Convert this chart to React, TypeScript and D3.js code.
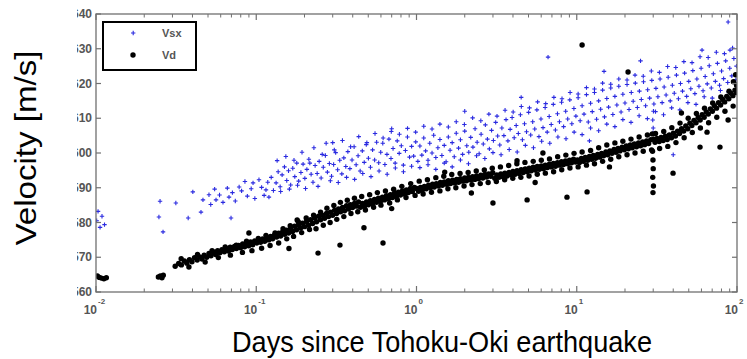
import React from "react";
import * as d3 from "d3";

// ---- data (days since earthquake, velocity m/s) ----
const yTickValues = [1560, 1570, 1580, 1590, 1600, 1610, 1620, 1630, 1640];
const xDecades = [0.01, 0.1, 1, 10, 100];
const xDecadeExponents = ["-2", "-1", "0", "1", "2"];
const legendLabels = ["Vsx", "Vd"];

const vsxPoints: [number, number][] = [
  [0.0101,1580.5],[0.0103,1583.2],[0.0106,1578.6],[0.0109,1581.8],[0.0113,1579.4],
  [0.0247,1581.6],[0.0262,1577.3],[0.0251,1586.1],
  [0.0315,1585.6],[0.0376,1581.3],[0.0402,1588.8],[0.0452,1583.0],[0.0465,1586.5],[0.0507,1588.0],[0.0561,1586.5],[0.0676,1587.3],[0.0696,1581.3],[0.0782,1590.2],[0.0955,1591.4],[0.115,1589.4],[0.12,1587.3],
  [0.052,1585.2],[0.055,1589.6],[0.059,1587.9],[0.062,1585.8],[0.066,1589.9],[0.071,1588.6],[0.074,1586.2],[0.081,1589.1],[0.085,1591.8],[0.088,1587.6],[0.093,1589.7],[0.098,1586.9],[0.104,1592.3],[0.108,1590.1],[0.112,1587.8],[0.118,1591.6],[0.124,1593.0],[0.128,1589.2],
  [0.133,1591.4],[0.137,1594.6],[0.141,1590.3],[0.145,1593.7],[0.150,1596.0],[0.155,1592.1],[0.159,1594.9],[0.164,1590.8],[0.169,1595.6],[0.174,1593.2],[0.179,1597.1],[0.184,1591.9],[0.190,1594.4],[0.196,1596.8],[0.201,1592.7],[0.207,1595.3],[0.213,1598.2],[0.220,1593.9],[0.226,1591.6],[0.233,1596.4],[0.240,1594.1],[0.247,1597.6],[0.254,1592.8],[0.262,1595.9],[0.270,1599.3],[0.278,1594.5],[0.286,1597.0],[0.295,1593.3],[0.304,1596.7],[0.313,1600.1],[0.322,1595.2],[0.332,1597.9],[0.342,1594.0],[0.352,1598.6],[0.362,1596.1],[0.373,1600.4],[0.384,1595.5],[0.396,1598.0],[0.408,1601.8],[0.420,1596.6],[0.432,1599.2],[0.445,1594.8],[0.459,1600.6],[0.472,1597.3],[0.486,1602.4],[0.501,1598.5],[0.516,1595.9],[0.532,1600.9],[0.548,1598.0],[0.564,1603.1],[0.581,1597.2],[0.598,1600.2],[0.616,1602.8],[0.635,1596.7],[0.654,1599.6],[0.673,1604.0],[0.693,1598.4],[0.714,1601.3],[0.736,1597.1],[0.758,1603.5],[0.780,1599.9],[0.804,1602.1],[0.828,1596.5],[0.853,1600.7],[0.878,1604.6],[0.905,1598.8],[0.932,1601.9],[0.960,1599.1],[0.989,1603.2],
  [1.02,1597.6],[1.05,1602.0],[1.08,1599.4],[1.11,1604.3],[1.14,1600.6],[1.18,1597.9],[1.21,1602.8],[1.25,1600.0],[1.28,1605.1],[1.32,1598.7],[1.36,1601.5],[1.40,1603.9],[1.44,1599.3],[1.49,1602.2],[1.53,1597.5],[1.58,1604.6],[1.62,1600.8],[1.67,1603.0],[1.72,1598.9],[1.77,1605.7],[1.83,1601.4],[1.88,1603.8],[1.94,1599.6],[2.00,1606.3],[2.06,1602.1],[2.12,1600.2],[2.18,1604.5],[2.25,1601.7],[2.32,1607.0],[2.39,1603.1],[2.46,1599.8],[2.53,1605.4],[2.61,1602.6],[2.69,1608.1],[2.77,1604.0],[2.85,1601.2],[2.94,1606.5],[3.02,1603.6],[3.12,1608.8],[3.21,1604.9],[3.31,1602.3],[3.41,1607.2],[3.51,1605.0],[3.62,1609.6],[3.72,1603.5],[3.84,1606.8],[3.95,1610.2],[4.07,1604.4],[4.19,1607.9],[4.32,1605.6],[4.45,1611.0],[4.58,1603.8],[4.72,1608.4],[4.86,1606.1],[5.01,1611.7],[5.16,1605.2],[5.31,1609.0],[5.47,1606.9],[5.64,1612.4],[5.81,1604.7],[5.98,1609.8],[6.16,1607.3],[6.35,1613.1],[6.54,1606.0],[6.73,1610.5],[6.93,1608.2],[7.14,1614.0],[7.36,1606.6],[7.58,1611.3],[7.80,1609.0],[8.04,1614.6],[8.28,1607.6],[8.53,1612.0],[8.78,1609.8],[9.05,1615.3],[9.32,1608.4],[9.60,1612.8],
  [9.88,1610.6],[10.2,1615.9],[10.5,1609.3],[10.8,1613.6],[11.1,1611.2],[11.5,1616.8],[11.8,1608.9],[12.2,1614.3],[12.5,1611.9],[12.9,1617.4],[13.3,1609.7],[13.7,1615.0],[14.1,1612.6],[14.5,1618.1],[14.9,1610.4],[15.4,1615.7],[15.8,1613.2],[16.3,1618.7],[16.8,1611.1],[17.3,1616.3],[17.8,1613.8],[18.3,1619.2],[18.9,1611.8],[19.4,1616.9],[20.0,1614.4],[20.6,1619.7],[21.2,1612.5],[21.9,1617.4],[22.5,1614.9],[23.2,1620.1],[23.9,1613.1],[24.6,1617.8],[25.3,1615.4],[26.1,1620.5],[26.9,1613.6],[27.7,1618.2],[28.5,1615.8],[29.4,1620.9],[29.8,1609.5],[30.0,1607.2],[30.1,1612.0],[29.9,1605.8],[30.3,1614.1],[31.2,1618.6],[32.1,1616.2],[33.1,1621.3],[34.1,1614.5],[35.1,1619.0],[36.1,1616.7],[37.2,1621.8],[38.3,1615.0],[39.5,1619.5],[40.6,1617.2],[41.9,1622.4],[43.1,1615.6],[44.4,1620.0],[45.7,1617.8],[47.1,1623.0],[48.5,1616.3],[50.0,1620.6],[51.5,1618.5],[53.0,1623.7],[54.6,1617.1],[56.2,1621.3],[57.9,1619.2],[59.7,1624.4],[61.4,1617.9],[63.3,1622.0],[65.2,1619.9],[67.1,1625.1],[69.1,1618.7],[71.2,1622.8],[73.3,1620.6],[75.5,1625.8],[77.8,1619.5],[80.1,1623.6],[82.5,1621.4],[85.0,1626.5],[87.5,1620.3],[90.1,1624.4],[92.8,1622.2],[95.6,1627.2],[98.4,1621.1],[99.3,1625.0],
  [6.62,1627.6],[60.5,1629.6],[90.4,1629.6],[88,1637.7],[25,1626.5],[4.5,1616],[2.0,1612],[0.7,1607],[0.3,1603],[14.8,1623.5],[40,1599.5],[12,1603.5],
  [0.135,1597.8],[0.142,1588.9],[0.153,1599.0],[0.161,1589.6],[0.172,1597.9],[0.181,1590.7],[0.193,1600.2],[0.203,1589.8],[0.216,1597.1],[0.229,1601.5],[0.243,1590.4],[0.258,1599.6],[0.273,1602.8],[0.29,1592.0],[0.307,1600.9],[0.325,1591.5],[0.345,1603.6],[0.366,1593.0],[0.388,1601.8],[0.411,1592.4],[0.436,1604.7],[0.462,1594.1],[0.49,1603.0],[0.52,1593.2],[0.551,1605.6],[0.584,1594.8],[0.619,1604.3],[0.656,1593.9],[0.696,1606.2],[0.738,1595.7],[0.782,1605.4],[0.829,1594.6],[0.879,1607.1],[0.932,1596.2],[0.988,1606.0],
  [1.05,1595.8],[1.11,1607.7],[1.18,1596.6],[1.25,1606.9],[1.32,1595.3],[1.4,1608.3],[1.49,1597.1],[1.58,1607.5],[1.67,1596.0],[1.77,1609.0],[1.88,1598.0],[1.99,1608.2],[2.11,1596.9],[2.24,1610.1],[2.37,1599.2],[2.52,1609.3],[2.67,1598.4],[2.83,1611.2],[3.0,1600.1],[3.18,1610.6],[3.37,1599.5],[3.57,1612.3],[3.79,1601.0],[4.01,1611.8],[4.25,1600.3],[4.51,1613.4],[4.78,1602.2],[5.07,1613.0],[5.37,1601.5],[5.7,1614.7],[6.04,1603.4],[6.4,1614.2],[6.79,1602.8],[7.2,1616.0],[7.63,1604.6],[8.09,1615.6],[8.57,1604.1],[9.09,1617.4],[9.63,1606.0],
  [10.2,1617.0],[10.8,1605.3],[11.5,1618.8],[12.2,1607.2],[12.9,1618.4],[13.7,1606.4],[14.5,1620.1],[15.4,1608.3],[16.3,1619.8],[17.3,1607.6],[18.3,1621.3],[19.4,1609.6],[20.6,1621.0],[21.8,1608.8],[23.1,1622.4],[24.5,1610.7],[26.0,1622.1],[27.6,1609.9],[29.2,1623.6],[31.0,1611.9],[32.8,1623.2],[34.8,1611.0],[36.9,1624.9],[39.1,1613.0],[41.5,1624.6],[44.0,1612.4],[46.6,1626.3],[49.4,1614.5],[52.4,1626.0],[55.5,1614.0],[58.8,1627.7],[62.4,1616.2],[66.1,1627.5],[70.1,1615.8],[74.3,1629.0],[78.8,1618.0],[83.5,1628.6],[88.5,1617.6],[93.8,1630.2],[99.4,1619.3]
];

const vdPoints: [number, number][] = [
  [0.0102,1564.6],[0.0105,1564.2],[0.0108,1564.0],[0.0112,1563.8],[0.0116,1564.1],
  [0.0245,1564.3],[0.0252,1564.6],[0.0258,1564.1],[0.0263,1564.8],
  [0.0312,1567.4],[0.0328,1568.2],[0.0341,1567.8],[0.0356,1568.9],[0.0369,1568.3],[0.0383,1569.3],[0.0397,1568.7],[0.0412,1569.9],[0.0428,1569.2],[0.0444,1570.1],[0.0459,1569.5],[0.0473,1570.6],[0.0491,1570.0],[0.0507,1571.1],[0.0522,1570.4],[0.0541,1571.5],[0.0558,1570.8],[0.0574,1571.9],[0.0593,1571.3],[0.0611,1572.2],[0.0632,1571.6],[0.0649,1572.5],[0.0671,1571.8],[0.0688,1572.9],[0.0709,1572.2],[0.0731,1573.1],[0.0752,1572.5],[0.0776,1573.4],[0.0798,1572.7],[0.0823,1573.8],[0.0846,1573.0],[0.0871,1574.0],[0.0897,1573.3],[0.0922,1574.4],[0.0951,1573.6],[0.0978,1574.7],
  [0.1006,1574.1],[0.1035,1575.0],[0.1064,1574.3],[0.1096,1575.3],[0.1128,1574.6],[0.1161,1575.7],[0.1195,1575.0],[0.1229,1576.0],[0.1265,1575.3],[0.1302,1576.4],[0.1340,1575.8],[0.1379,1576.9],[0.1419,1576.1],[0.1461,1577.3],[0.1503,1576.6],[0.1547,1577.8],[0.1592,1577.0],[0.1638,1578.3],[0.1686,1577.4],[0.1735,1578.9],[0.1786,1577.9],[0.1838,1579.3],[0.1891,1578.4],[0.1946,1579.8],[0.2003,1578.8],[0.2061,1580.3],[0.2121,1579.2],[0.2183,1580.8],[0.2247,1579.7],[0.2312,1581.3],[0.2379,1580.2],[0.2449,1581.8],[0.2520,1580.8],[0.2593,1582.1],[0.2669,1581.2],[0.2746,1582.6],[0.2826,1581.7],[0.2909,1583.0],[0.2993,1582.1],[0.3080,1583.5],[0.3170,1582.6],[0.3262,1583.9],[0.3357,1583.1],[0.3455,1584.3],[0.3556,1583.4],[0.3659,1584.8],[0.3765,1583.9],[0.3875,1585.1],[0.3988,1584.3],[0.4104,1585.5],[0.4223,1584.7],[0.4346,1585.9],
  [0.4473,1584.4],[0.4603,1585.5],[0.4737,1584.7],[0.4875,1585.9],[0.5016,1585.1],[0.5162,1586.3],[0.5312,1585.4],[0.5467,1586.6],[0.5626,1585.8],[0.5790,1587.0],[0.5958,1586.1],[0.6132,1587.3],[0.6310,1586.5],[0.6494,1587.7],[0.6683,1586.8],[0.6877,1588.0],[0.7077,1587.2],[0.7283,1588.4],[0.7495,1587.5],[0.7713,1588.7],[0.7937,1587.9],[0.8168,1589.1],[0.8406,1588.2],[0.8650,1589.4],[0.8902,1588.6],[0.9161,1589.8],[0.9428,1588.9],[0.9702,1590.1],
  [1.00,1589.8],[1.03,1589.0],[1.06,1590.1],[1.09,1589.4],[1.12,1590.4],[1.15,1589.7],[1.19,1590.7],[1.22,1590.0],[1.26,1591.0],[1.29,1590.2],[1.33,1591.2],[1.37,1590.5],[1.41,1591.5],[1.45,1590.7],[1.49,1591.7],[1.54,1591.0],[1.58,1592.0],[1.63,1591.2],[1.68,1592.2],[1.73,1591.4],[1.78,1592.4],[1.83,1591.6],[1.88,1592.6],[1.94,1591.9],[2.00,1592.8],[2.05,1592.0],[2.11,1593.0],[2.18,1592.2],[2.24,1593.2],[2.31,1592.4],[2.37,1593.4],[2.44,1592.6],[2.52,1593.6],[2.59,1592.8],[2.67,1593.8],[2.74,1593.1],[2.82,1594.0],[2.91,1593.3],[2.99,1594.3],
  [3.08,1592.7],[3.17,1593.7],[3.27,1593.0],[3.36,1594.0],[3.46,1593.2],[3.56,1594.2],[3.67,1593.4],[3.78,1594.4],[3.89,1593.7],[4.00,1594.7],[4.12,1593.9],[4.24,1594.9],[4.37,1594.1],[4.50,1595.2],[4.63,1594.4],[4.77,1595.4],[4.91,1594.6],[5.05,1595.6],[5.20,1594.9],[5.35,1595.9],[5.51,1595.1],[5.67,1596.1],[5.84,1595.3],[6.01,1596.3],[6.19,1595.5],[6.37,1596.5],[6.56,1595.8],[6.75,1596.8],[6.95,1596.0],[7.15,1597.0],[7.36,1596.2],[7.58,1597.2],[7.80,1596.5],[8.03,1597.5],[8.27,1596.7],[8.51,1597.7],[8.76,1596.9],[9.02,1597.9],[9.28,1597.2],[9.55,1598.2],[9.83,1597.4],
  [10.1,1598.0],[10.4,1597.3],[10.7,1598.4],[11.0,1597.6],[11.3,1598.7],[11.7,1597.9],[12.0,1599.0],[12.4,1598.2],[12.7,1599.3],[13.1,1598.5],[13.5,1599.6],[13.9,1598.8],[14.3,1599.9],[14.7,1599.2],[15.2,1600.3],[15.6,1599.5],[16.1,1600.6],[16.6,1599.9],[17.1,1601.0],[17.6,1600.2],[18.1,1601.3],[18.6,1600.6],[19.2,1601.7],[19.8,1600.9],[20.4,1602.0],[21.0,1601.2],[21.6,1602.3],[22.2,1601.5],[22.9,1602.6],[23.6,1601.8],[24.3,1602.9],[25.0,1602.1],[25.8,1603.2],[26.5,1602.4],[27.3,1603.5],[28.1,1602.7],[29.0,1603.8],
  [29.7,1600.5],[29.9,1598.0],[30.0,1595.5],[29.8,1593.0],[30.1,1590.5],[29.9,1588.6],[29.6,1605.5],
  [30.2,1604.0],[30.8,1603.1],[31.7,1604.2],[32.7,1603.3],[33.6,1604.5],[34.6,1603.6],[35.7,1604.8],[36.7,1603.9],[37.8,1605.2],[39.0,1604.4],[40.1,1605.7],[41.3,1604.9],[42.6,1606.3],[43.8,1605.6],[45.1,1607.0],[46.5,1606.3],[47.9,1607.8],[49.3,1607.0],[50.8,1608.6],[52.3,1607.9],[53.9,1609.4],[55.5,1608.7],[57.2,1610.2],[58.9,1609.5],[60.6,1611.0],[62.4,1610.3],[64.3,1611.8],[66.2,1611.2],[68.2,1612.7],[70.2,1612.0],[72.3,1613.6],[74.5,1612.9],[76.7,1614.5],[79.0,1613.8],[81.4,1615.4],[83.8,1614.7],[86.3,1616.3],[88.9,1615.6],[91.6,1617.2],[94.3,1616.5],[97.1,1618.1],[99.0,1617.4],[99.5,1619.5],
  [20.9,1623.3],[10.8,1631.1],[11.6,1588.8],[8.69,1587.3],[4.24,1597.8],[6.15,1600.0],[58.8,1601.7],[78.3,1601.7],[39.9,1594.2],[0.333,1573.5],[0.618,1574.1],[0.243,1571.2],[0.18,1580.7],[4.9,1586.5],[3.0,1585.6],[0.09,1577],[0.16,1572.5],[0.47,1578.5],[0.7,1584],[1.5,1594.5],[2.2,1588.5],[5.5,1591.5],[16,1596],[45,1611.5],[65,1606],[88,1609.5],[95,1620.5],[98,1622.5],
  [0.034,1569.6],[0.038,1567.2],[0.043,1570.8],[0.048,1568.6],[0.053,1571.9],[0.058,1569.9],[0.064,1573.0],[0.069,1570.6],[0.075,1573.5],[0.082,1571.4],[0.087,1574.6],[0.094,1571.9],[0.103,1575.4],[0.108,1572.6],[0.115,1576.3],[0.122,1573.4],[0.131,1577.0],[0.138,1574.1],[0.147,1578.2],[0.155,1575.3],[0.163,1579.1],[0.171,1576.0],[0.183,1580.2],[0.192,1577.1],[0.205,1581.3],[0.215,1578.0],[0.228,1582.1],[0.236,1578.2],[0.252,1583.0],[0.262,1579.2],[0.276,1584.1],[0.289,1580.0],[0.305,1584.9],[0.318,1580.9],[0.335,1585.8],[0.352,1581.7],[0.37,1586.4],[0.39,1582.6],[0.41,1587.0],[0.43,1583.1],[0.455,1587.5],[0.48,1583.6],[0.51,1588.0],[0.54,1584.4],[0.57,1588.6],[0.6,1585.0],[0.64,1589.1],[0.68,1585.6],[0.72,1589.6],[0.76,1586.5],[0.81,1590.4],[0.86,1587.2],[0.92,1591.2],[0.98,1587.8],
  [1.04,1591.9],[1.1,1588.2],[1.17,1592.3],[1.24,1588.7],[1.32,1592.9],[1.4,1589.1],[1.48,1593.3],[1.57,1589.7],[1.66,1593.8],[1.76,1590.0],[1.87,1594.1],[1.98,1590.5],[2.1,1594.4],[2.22,1590.9],[2.36,1594.8],[2.5,1591.2],[2.65,1595.1],[2.8,1591.5],[2.97,1595.6],[3.15,1591.8],[3.34,1596.0],[3.55,1592.3],[3.76,1596.4],[3.99,1592.7],[4.23,1596.9],[4.48,1593.0],[4.75,1597.3],[5.04,1593.4],[5.35,1597.6],[5.67,1593.9],[6.01,1597.9],[6.37,1594.2],[6.76,1598.3],[7.17,1594.6],[7.6,1598.9],[8.06,1595.2],[8.55,1599.4],[9.07,1595.7],[9.62,1599.9],
  [10.2,1596.0],[10.8,1600.3],[11.5,1596.5],[12.2,1600.7],[12.9,1596.9],[13.7,1601.5],[14.5,1597.6],[15.4,1602.3],[16.3,1598.2],[17.3,1602.9],[18.3,1598.9],[19.4,1603.4],[20.6,1599.5],[21.8,1604.0],[23.1,1600.0],[24.5,1604.6],[26.0,1600.5],[27.6,1605.2],[29.3,1600.9],[31.0,1605.6],[32.9,1601.3],[34.9,1606.2],[37.0,1601.9],[39.2,1607.3],[41.6,1603.0],[44.1,1608.6],[46.8,1604.4],[49.6,1610.0],[52.6,1605.9],[55.8,1611.4],[59.1,1607.2],[62.7,1612.9],[66.5,1608.7],[70.5,1614.4],[74.8,1610.3],[79.3,1616.1],[84.1,1612.0],[89.2,1617.8],[94.6,1613.5],[99.8,1619.6]
];

const W = 747;
const H = 359;
const M = { left: 96, right: 737, top: 14, bottom: 292 };

export default function App() {
  const x = d3.scaleLog().domain([0.01, 100]).range([M.left, M.right]);
  const y = d3.scaleLinear().domain([1560, 1640]).range([M.bottom, M.top]);

  const minorTicks: number[] = [];
  xDecades.slice(0, -1).forEach((dec) => {
    for (let m = 2; m <= 9; m++) minorTicks.push(dec * m);
  });

  const frame = "#707070";
  const tickColor = "#555";
  const labelFont = "'Liberation Sans', Arial, sans-serif";

  return (
    <svg
      width={W}
      height={H}
      style={{ position: "absolute", left: 0, top: 0, background: "#fff" }}
      xmlns="http://www.w3.org/2000/svg"
    >
      <defs>
        <clipPath id="ylabclip">
          <rect x={77} y={0} width={30} height={H} />
        </clipPath>
        <clipPath id="plotclip">
          <rect x={M.left} y={M.top} width={M.right - M.left} height={M.bottom - M.top} />
        </clipPath>
      </defs>
      <rect x={0} y={0} width={W} height={H} fill="#fff" />

      {/* data */}
      <g clipPath="url(#plotclip)">
        {vsxPoints.map(([d, v], i) => {
          const cx = x(d);
          const cy = y(v);
          return (
            <path
              key={"b" + i}
              d={`M${cx - 2.2},${cy}H${cx + 2.2}M${cx},${cy - 2.2}V${cy + 2.2}`}
              stroke="#2a2ae0"
              strokeWidth={1.1}
              fill="none"
            />
          );
        })}
        {vdPoints.map(([d, v], i) => (
          <circle key={"k" + i} cx={x(d)} cy={y(v)} r={2.7} fill="#000" />
        ))}
      </g>

      {/* frame */}
      <rect
        x={M.left}
        y={M.top}
        width={M.right - M.left}
        height={M.bottom - M.top}
        fill="none"
        stroke={frame}
        strokeWidth={1.3}
      />

      {/* y ticks */}
      {yTickValues.map((v) => (
        <g key={"yt" + v}>
          <line x1={M.left} x2={M.left + 5} y1={y(v)} y2={y(v)} stroke={frame} strokeWidth={1.2} />
          <line x1={M.right - 5} x2={M.right} y1={y(v)} y2={y(v)} stroke={frame} strokeWidth={1.2} />
        </g>
      ))}
      <g clipPath="url(#ylabclip)">
        {yTickValues.map((v) => (
          <text
            key={"yl" + v}
            x={92}
            y={y(v) + 4}
            textAnchor="end"
            fontFamily={labelFont}
            fontWeight="bold"
            fontSize={12}
            fill={tickColor}
          >
            {v}
          </text>
        ))}
      </g>

      {/* x ticks */}
      {xDecades.map((d) => (
        <g key={"xt" + d}>
          <line x1={x(d)} x2={x(d)} y1={M.bottom} y2={M.bottom - 6} stroke={frame} strokeWidth={1.2} />
          <line x1={x(d)} x2={x(d)} y1={M.top} y2={M.top + 6} stroke={frame} strokeWidth={1.2} />
        </g>
      ))}
      {minorTicks.map((d) => (
        <g key={"xm" + d}>
          <line x1={x(d)} x2={x(d)} y1={M.bottom} y2={M.bottom - 3.5} stroke={frame} strokeWidth={1} />
          <line x1={x(d)} x2={x(d)} y1={M.top} y2={M.top + 3.5} stroke={frame} strokeWidth={1} />
        </g>
      ))}
      {xDecades.map((d, i) => (
        <g key={"xl" + d}>
          <text
            x={x(d) + 1}
            y={314}
            textAnchor="end"
            fontFamily={labelFont}
            fontWeight="bold"
            fontSize={12}
            fill={tickColor}
          >
            10
          </text>
          <text
            x={x(d) + 2}
            y={304}
            textAnchor="start"
            fontFamily={labelFont}
            fontWeight="bold"
            fontSize={8}
            fill={tickColor}
          >
            {xDecadeExponents[i]}
          </text>
        </g>
      ))}

      {/* legend */}
      <rect x={103} y={22} width={93} height={48} fill="#fff" stroke="#000" strokeWidth={2} />
      <path d="M131,33H135.4M133.2,30.8V35.2" stroke="#2a2ae0" strokeWidth={1.1} />
      <circle cx={133} cy={55} r={2.7} fill="#000" />
      <text x={162} y={37} fontFamily={labelFont} fontWeight="bold" fontSize={11} fill={tickColor}>
        {legendLabels[0]}
      </text>
      <text x={162} y={59} fontFamily={labelFont} fontWeight="bold" fontSize={11} fill={tickColor}>
        {legendLabels[1]}
      </text>

      {/* axis titles */}
      <text
        x={442}
        y={352}
        textAnchor="middle"
        fontFamily={labelFont}
        fontSize={29}
        fill="#000"
        textLength={420}
        lengthAdjust="spacingAndGlyphs"
      >
        Days since Tohoku-Oki earthquake
      </text>
      <text
        transform="translate(36,148) rotate(-90)"
        textAnchor="middle"
        fontFamily={labelFont}
        fontSize={29}
        fill="#000"
        textLength={195}
        lengthAdjust="spacingAndGlyphs"
      >
        Velocity [m/s]
      </text>
    </svg>
  );
}
